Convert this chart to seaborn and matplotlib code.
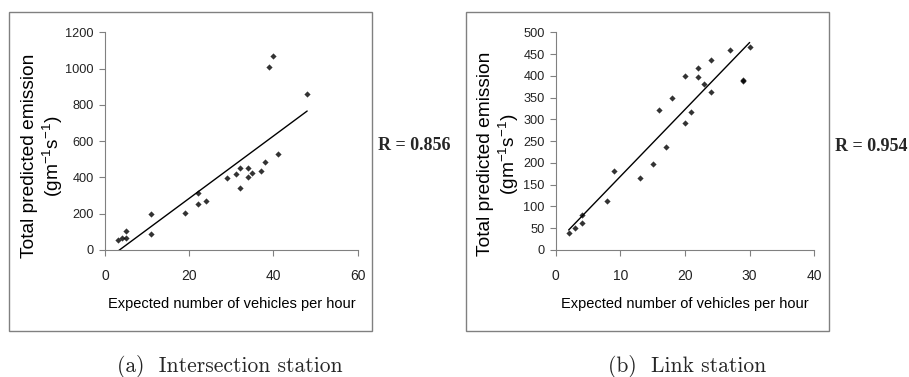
import numpy as np
import pandas as pd
import matplotlib
matplotlib.use("Agg")
import matplotlib.pyplot as plt
from matplotlib.patches import Rectangle
import seaborn as sns

# ---- data ----
int_vehicles = [3, 4, 5, 5, 11, 11, 19, 22, 22, 24, 29, 31, 32, 32, 34, 34, 35, 37, 38, 39, 40, 41, 48]
int_emission = [57, 64, 64, 103, 196, 90, 204, 316, 255, 268, 398, 420, 453, 341, 450, 402, 422, 437, 484, 1007, 1070, 528, 859]

link_vehicles = [2, 3, 4, 4, 8, 9, 13, 15, 16, 17, 18, 20, 20, 21, 22, 22, 23, 24, 24, 27, 29, 29, 30]
link_emission = [39, 50, 81, 63, 112, 181, 165, 198, 321, 236, 348, 399, 291, 316, 419, 397, 381, 436, 364, 459, 388, 391, 466]

int_xticks = [0, 20, 40, 60]
int_yticks = [0, 200, 400, 600, 800, 1000, 1200]
link_xticks = [0, 10, 20, 30, 40]
link_yticks = [0, 50, 100, 150, 200, 250, 300, 350, 400, 450, 500]

r_labels = ["R = 0.856", "R = 0.954"]
captions = ["(a)  Intersection station", "(b)  Link station"]
xlabel = "Expected number of vehicles per hour"
ylabel = "Total predicted emission\n(gm$^{-1}$s$^{-1}$)"

sns.set_style("white")
plt.rcParams["font.family"] = ["Liberation Sans", "DejaVu Sans"]
plt.rcParams["mathtext.fontset"] = "custom"
plt.rcParams["mathtext.rm"] = "Liberation Sans"
plt.rcParams["mathtext.it"] = "Liberation Sans:italic"
plt.rcParams["mathtext.bf"] = "Liberation Sans:bold"

fig = plt.figure(figsize=(9.09, 3.77), dpi=100)

gray = "#808080"
panels = [
    dict(x=int_vehicles, y=int_emission, xt=int_xticks, yt=int_yticks,
         ax_rect=[105/909, 1-250/377, (357.7-105)/909, (250-32.3)/377],
         box=[9.3, 11.7, 372.3, 330.7], ylab=(-0.246, 0.432),
         r_xy=(377.7, 145), cap_x=230),
    dict(x=link_vehicles, y=link_emission, xt=link_xticks, yt=link_yticks,
         ax_rect=[555.7/909, 1-250/377, (814.3-555.7)/909, (250-32.3)/377],
         box=[466.3, 11.7, 829.3, 330.7], ylab=(-0.219, 0.441),
         r_xy=(835, 146.7), cap_x=686.7),
]

for i, p in enumerate(panels):
    x0, y0, x1, y1 = p["box"]
    fig.patches.append(Rectangle((x0/909, 1-y1/377), (x1-x0)/909, (y1-y0)/377,
                                 transform=fig.transFigure, fill=False,
                                 edgecolor=gray, linewidth=1.0))
    ax = fig.add_axes(p["ax_rect"])
    df = pd.DataFrame({"x": p["x"], "y": p["y"]})
    sns.regplot(data=df, x="x", y="y", ax=ax, ci=None, color="black",
                marker="D", scatter_kws=dict(s=10, linewidths=0),
                line_kws=dict(linewidth=1.0))
    ax.set_xlim(p["xt"][0], p["xt"][-1])
    ax.set_ylim(p["yt"][0], p["yt"][-1])
    ax.set_xticks(p["xt"])
    ax.set_yticks(p["yt"])
    ax.tick_params(axis="both", direction="out", length=4, width=0.8,
                   color=gray, labelcolor="#222222", left=True, bottom=True)
    ax.tick_params(axis="x", labelsize=10, pad=9.5)
    ax.tick_params(axis="y", labelsize=9.2, pad=4)
    for s in ["top", "right"]:
        ax.spines[s].set_visible(False)
    for s in ["left", "bottom"]:
        ax.spines[s].set_color(gray)
        ax.spines[s].set_linewidth(0.8)
    ax.set_xlabel(xlabel, fontsize=10.5, labelpad=10, color="black")
    ax.set_ylabel(ylabel, fontsize=13.8, color="black", va="center", linespacing=1.15)
    ax.yaxis.set_label_coords(*p["ylab"])
    ax.patch.set_alpha(0)
    fig.text(p["r_xy"][0]/909, 1-p["r_xy"][1]/377, r_labels[i], fontsize=13,
             fontweight="bold", family=["Liberation Serif", "DejaVu Serif"],
             ha="left", va="center")
    fig.text(p["cap_x"]/909, 1-366/377, captions[i], fontsize=15.5,
             family=["cmr10", "DejaVu Serif"], ha="center", va="center")

fig.savefig("out.png", dpi=100)
